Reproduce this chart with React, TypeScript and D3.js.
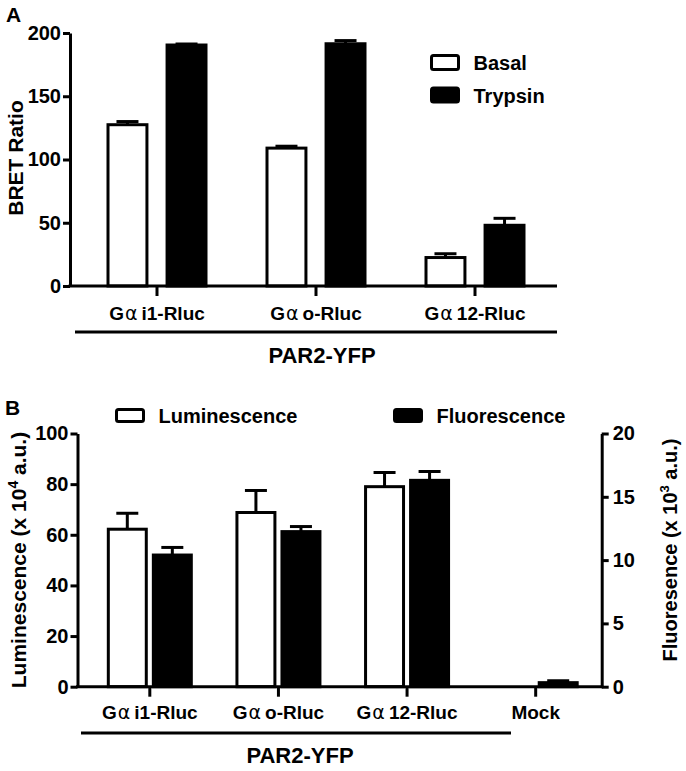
import React, { useEffect, useRef } from 'react'
import * as d3 from 'd3'

// panel A: BRET ratio
const constructsA = ['Gαi1-Rluc', 'Gαo-Rluc', 'Gα12-Rluc']
const seriesA = ['Basal', 'Trypsin']
const basal = [127.5, 109, 22.5]
const basalErr = [2.5, 1.5, 3]
const trypsin = [190.5, 191.5, 48]
const trypsinErr = [0.8, 2.5, 5.5]
const ticksA = [0, 50, 100, 150, 200]

// panel B: luminescence (left axis) / fluorescence (right axis)
const constructsB = ['Gαi1-Rluc', 'Gαo-Rluc', 'Gα12-Rluc', 'Mock']
const seriesB = ['Luminescence', 'Fluorescence']
const luminescence = [62.2, 68.8, 79, 0]
const luminescenceErr = [6.3, 8.7, 5.6, 0]
const fluorescence = [10.4, 12.25, 16.3, 0.32]
const fluorescenceErr = [0.6, 0.4, 0.7, 0.15]
const ticksLum = [0, 20, 40, 60, 80, 100]
const ticksFluor = [0, 5, 10, 15, 20]

const FONT = "'Liberation Sans', Arial, Helvetica, sans-serif"
const W = 686
const H = 771

function addLabel(t: d3.Selection<SVGTextElement, unknown, null, undefined>, label: string) {
  if (!label.includes('α')) {
    t.text(label)
    return
  }
  const [pre, post] = label.split('α')
  t.append('tspan').text(pre)
  t.append('tspan')
    .attr('font-family', "'DejaVu Sans', sans-serif")
    .attr('font-weight', 'normal')
    .attr('dx', 1)
    .text('α')
  t.append('tspan').attr('dx', 4).text(post)
}

export default function App() {
  const svgRef = useRef<SVGSVGElement>(null)

  useEffect(() => {
    if (!svgRef.current) return
    const svg = d3.select(svgRef.current)
    svg.selectAll('*').remove()

    svg.append('rect').attr('width', W).attr('height', H).attr('fill', 'white')

    const root = svg
      .append('g')
      .attr('font-family', FONT)
      .attr('font-weight', 'bold')
      .attr('fill', 'black')

    const drawBars = (
      g: d3.Selection<SVGGElement, unknown, null, undefined>,
      cats: string[],
      x0: d3.ScaleBand<string>,
      x1: d3.ScaleBand<string>,
      series: string,
      values: number[],
      errs: number[],
      y: d3.ScaleLinear<number, number>,
      fill: string
    ) => {
      const left = (c: string) => (x0(c) || 0) + x0.bandwidth() / 2 + (x1(series) || 0)
      const bw = x1.bandwidth()
      cats.forEach((c, i) => {
        const v = values[i]
        const e = errs[i]
        const mid = left(c) + bw / 2
        if (e > 0) {
          g.append('line')
            .attr('x1', mid).attr('x2', mid)
            .attr('y1', y(v)).attr('y2', y(v + e))
            .attr('stroke', 'black').attr('stroke-width', 3)
          g.append('line')
            .attr('x1', mid - 11).attr('x2', mid + 11)
            .attr('y1', y(v + e)).attr('y2', y(v + e))
            .attr('stroke', 'black').attr('stroke-width', 3)
        }
        g.append('rect')
          .attr('x', left(c) + 1.5)
          .attr('y', y(v))
          .attr('width', bw - 3)
          .attr('height', y(0) - y(v))
          .attr('fill', fill)
          .attr('stroke', 'black')
          .attr('stroke-width', 3)
      })
    }

    const styleAxis = (ax: d3.Selection<SVGGElement, unknown, null, undefined>) => {
      ax.attr('font-family', FONT).attr('font-weight', 'bold').attr('font-size', 20)
      ax.selectAll('path, line').attr('stroke', 'black').attr('stroke-width', 3)
      ax.selectAll('text').attr('fill', 'black')
    }

    // ---------- Panel A ----------
    const gA = root.append('g')
    const yA = d3.scaleLinear().domain([0, 200]).range([286, 33])
    const x0A = d3.scaleBand().domain(constructsA).range([77.5, 554.5])
    const x1A = d3.scaleBand().domain(seriesA).range([-50.5, 50.5]).paddingInner(0.29)
    const axLeftA = 70
    const axRightA = 557

    drawBars(gA, constructsA, x0A, x1A, 'Basal', basal, basalErr, yA, 'white')
    drawBars(gA, constructsA, x0A, x1A, 'Trypsin', trypsin, trypsinErr, yA, 'black')

    const yAxisA = gA.append('g')
      .attr('transform', `translate(${axLeftA},0)`)
      .call(d3.axisLeft(yA).tickValues(ticksA).tickSize(7).tickSizeOuter(0).tickPadding(2))
    styleAxis(yAxisA)

    gA.append('line')
      .attr('x1', axLeftA - 1.5).attr('x2', axRightA)
      .attr('y1', yA(0)).attr('y2', yA(0))
      .attr('stroke', 'black').attr('stroke-width', 3)

    constructsA.forEach((c) => {
      const cx = (x0A(c) || 0) + x0A.bandwidth() / 2
      gA.append('line')
        .attr('x1', cx).attr('x2', cx)
        .attr('y1', yA(0)).attr('y2', yA(0) + 10)
        .attr('stroke', 'black').attr('stroke-width', 3)
      const t = gA.append('text')
        .attr('x', cx).attr('y', 320)
        .attr('text-anchor', 'middle')
        .attr('font-size', 19)
      addLabel(t, c)
    })

    gA.append('line')
      .attr('x1', 75).attr('x2', axRightA)
      .attr('y1', 332).attr('y2', 332)
      .attr('stroke', 'black').attr('stroke-width', 3)
    gA.append('text')
      .attr('x', 322).attr('y', 363)
      .attr('text-anchor', 'middle').attr('font-size', 22)
      .text('PAR2-YFP')

    gA.append('text')
      .attr('transform', 'translate(23,158) rotate(-90)')
      .attr('text-anchor', 'middle').attr('font-size', 21)
      .text('BRET Ratio')

    gA.append('text').attr('x', 6).attr('y', 22).attr('font-size', 21).text('A')

    const legendA = gA.append('g').attr('transform', 'translate(431.5,55.5)')
    seriesA.forEach((s, i) => {
      legendA.append('rect')
        .attr('x', 0).attr('y', i * 32.5)
        .attr('width', 27).attr('height', 14)
        .attr('rx', 2)
        .attr('fill', i === 0 ? 'white' : 'black')
        .attr('stroke', 'black').attr('stroke-width', 3)
      legendA.append('text')
        .attr('x', 42).attr('y', i * 32.5 + 14.5)
        .attr('font-size', 20)
        .text(s)
    })

    // ---------- Panel B ----------
    const gB = root.append('g')
    const yL = d3.scaleLinear().domain([0, 100]).range([686.7, 433.5])
    const yR = d3.scaleLinear().domain([0, 20]).range([686.7, 433.5])
    const x0B = d3.scaleBand().domain(constructsB).range([85.5, 600])
    const x1B = d3.scaleBand().domain(seriesB).range([-43, 43]).paddingInner(0.09)
    const axLeftB = 77.5
    const axRightB = 601.7

    drawBars(gB, constructsB, x0B, x1B, 'Luminescence', luminescence, luminescenceErr, yL, 'white')
    drawBars(gB, constructsB, x0B, x1B, 'Fluorescence', fluorescence, fluorescenceErr, yR, 'black')

    const yAxisL = gB.append('g')
      .attr('transform', `translate(${axLeftB},0)`)
      .call(d3.axisLeft(yL).tickValues(ticksLum).tickSize(7).tickSizeOuter(0).tickPadding(2))
    styleAxis(yAxisL)

    const yAxisR = gB.append('g')
      .attr('transform', `translate(${axRightB},0)`)
      .call(d3.axisRight(yR).tickValues(ticksFluor).tickSize(7).tickSizeOuter(0).tickPadding(4))
    styleAxis(yAxisR)

    gB.append('line')
      .attr('x1', axLeftB - 1.5).attr('x2', axRightB + 1.5)
      .attr('y1', yL(0)).attr('y2', yL(0))
      .attr('stroke', 'black').attr('stroke-width', 3)

    constructsB.forEach((c) => {
      const cx = (x0B(c) || 0) + x0B.bandwidth() / 2
      gB.append('line')
        .attr('x1', cx).attr('x2', cx)
        .attr('y1', yL(0)).attr('y2', yL(0) + 10)
        .attr('stroke', 'black').attr('stroke-width', 3)
      const t = gB.append('text')
        .attr('x', cx).attr('y', 719)
        .attr('text-anchor', 'middle')
        .attr('font-size', 19)
      addLabel(t, c)
    })

    gB.append('line')
      .attr('x1', 81).attr('x2', 511)
      .attr('y1', 733).attr('y2', 733)
      .attr('stroke', 'black').attr('stroke-width', 3)
    gB.append('text')
      .attr('x', 300).attr('y', 763)
      .attr('text-anchor', 'middle').attr('font-size', 22)
      .text('PAR2-YFP')

    const lumTitle = gB.append('text')
      .attr('transform', 'translate(26,560) rotate(-90)')
      .attr('text-anchor', 'middle').attr('font-size', 21)
    lumTitle.append('tspan').text('Luminescence (x 10')
    lumTitle.append('tspan').attr('dy', -8).attr('font-size', 14).text('4')
    lumTitle.append('tspan').attr('dy', 8).text(' a.u.)')

    const fluorTitle = gB.append('text')
      .attr('transform', 'translate(677,550) rotate(-90)')
      .attr('text-anchor', 'middle').attr('font-size', 20)
    fluorTitle.append('tspan').text('Fluoresence (x 10')
    fluorTitle.append('tspan').attr('dy', -8).attr('font-size', 13).text('3')
    fluorTitle.append('tspan').attr('dy', 8).text(' a.u.)')

    gB.append('text').attr('x', 5).attr('y', 415).attr('font-size', 21).text('B')

    const legendPos = [116.5, 394.5]
    seriesB.forEach((s, i) => {
      gB.append('rect')
        .attr('x', legendPos[i]).attr('y', 409.5)
        .attr('width', 27).attr('height', 12)
        .attr('rx', 2)
        .attr('fill', i === 0 ? 'white' : 'black')
        .attr('stroke', 'black').attr('stroke-width', 3)
      gB.append('text')
        .attr('x', legendPos[i] + 42).attr('y', 423)
        .attr('font-size', 20)
        .text(s)
    })
  }, [])

  return (
    <div style={{ position: 'absolute', left: 0, top: 0 }}>
      <svg ref={svgRef} width={W} height={H} style={{ display: 'block' }} />
    </div>
  )
}
